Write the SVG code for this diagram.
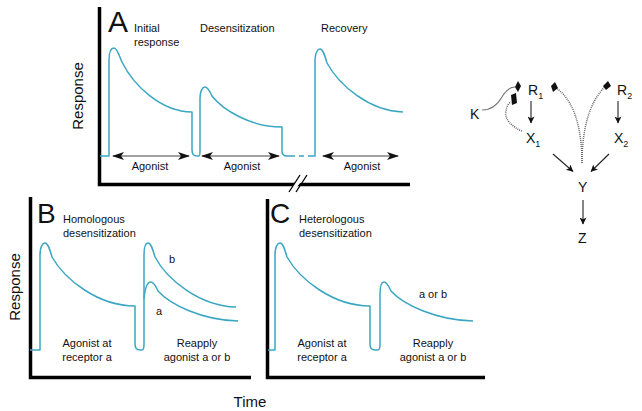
<svg xmlns="http://www.w3.org/2000/svg" width="642" height="411" viewBox="0 0 642 411">
<style>
text{font-family:"Liberation Sans",Arial,sans-serif;fill:#111}
.s{font-size:11px}
.m{font-size:11px;text-anchor:middle}
.big{font-size:30px}
.ax{stroke:#000;stroke-width:3.5;fill:none}
.tr{stroke:#3aa6c2;stroke-width:1.5;fill:none;stroke-linejoin:round}
.ag{stroke:#444;stroke-width:1.2;fill:none;marker-start:url(#ah);marker-end:url(#ah)}
.ar{stroke:#222;stroke-width:1.1;fill:none;marker-end:url(#sa)}
.dot{stroke:#666;stroke-width:1.5;fill:none;stroke-dasharray:1,1}
.lab{font-size:14px}
.sub{font-size:9px}
.yl{font-size:15px;text-anchor:middle}
</style>
<defs>
<marker id="ah" viewBox="0 0 12 8" refX="11" refY="4" markerWidth="12" markerHeight="8" markerUnits="userSpaceOnUse" orient="auto-start-reverse"><path d="M0,0 L12,4 L0,8 L3,4 z" fill="#111"/></marker>
<marker id="sa" viewBox="0 0 8 8" refX="7.5" refY="4" markerWidth="8" markerHeight="7" markerUnits="userSpaceOnUse" orient="auto"><path d="M0,0 L8,4 L0,8 L2,4 z" fill="#111"/></marker>
</defs>
<rect width="642" height="411" fill="#fff"/>

<g id="panelA">
<path class="ax" d="M99.5,7 V184.5 H410"/>
<polygon points="291,188 301,176 306,176 296,188" fill="#fff"/>
<path d="M289,192 L300,175 M296,192 L307,175" stroke="#000" stroke-width="1.3"/>
<text class="big" x="108" y="32">A</text>
<text class="s" x="134" y="32">Initial</text>
<text class="s" x="134" y="46">response</text>
<text class="s" x="200" y="32">Desensitization</text>
<text class="s" x="321" y="32">Recovery</text>
<text class="yl" transform="translate(83,96) rotate(-90)">Response</text>
<path class="tr" d="M100,156 H109 V60 C109,51 111,48 114,48 C117,48 119,55 122,62 C133,84.5 160.5,112 192,112 V150 C192,155 194,156 197,156 H199 C200,156 200,154 200,150 V99 C200,90 203,87 205,87 C208,87 210,92 212,96 C223,110 250.5,127 282,127 V151 C282,155 284,156 287,156 H290"/>
<path class="tr" d="M290,156 H312" stroke-dasharray="5,4"/>
<path class="tr" d="M312,156 H315 V62 C315,52 318,49 320,49 C323,49 325,56 327,63 C339,85 369,111 403,112"/>
<path class="ag" d="M113,156 H189"/>
<path class="ag" d="M202,156 H279"/>
<path class="ag" d="M323,156 H398"/>
<text class="m" x="150" y="170">Agonist</text>
<text class="m" x="242" y="170">Agonist</text>
<text class="m" x="362" y="170">Agonist</text>
</g>

<g id="panelB">
<path class="ax" d="M30.5,197 V377.5 H251"/>
<text class="big" x="37" y="223" style="font-size:28px">B</text>
<text class="s" x="63" y="223">Homologous</text>
<text class="s" x="63" y="237">desensitization</text>
<text class="yl" transform="translate(20,287) rotate(-90)">Response</text>
<path class="tr" d="M30,350 H40 V255 C40,246 43,243 45,243 C48,243 50,250 52,257 C64.5,279 97.6,306 135,306 V344 C135,349 137,350 140,350 H142 C143.5,350 144,349 144,344 V255 C144,246 146,243 148,243 C151,243 153,250 155,257 C167,279.5 199.5,306 236,307"/>
<path class="tr" d="M144,299 C145,287 148,282 151,282 C154,282 156,287 158,291 C170,304.5 202,320 238,321"/>
<text class="s" x="169" y="263">b</text>
<text class="s" x="156" y="315">a</text>
<text class="m" x="87" y="347">Agonist at</text>
<text class="m" x="87" y="361">receptor a</text>
<text class="m" x="197" y="347">Reapply</text>
<text class="m" x="197" y="361">agonist a or b</text>
</g>

<g id="panelC">
<path class="ax" d="M267.5,199 V377.5 H485"/>
<text class="big" x="270" y="223" style="font-size:28px">C</text>
<text class="s" x="299" y="223">Heterologous</text>
<text class="s" x="299" y="237">desensitization</text>
<path class="tr" d="M268,350 H275 V255 C275,246 278,243 280,243 C283,243 285,250 287,257 C299.5,279 332.6,306 370,306 V344 C370,349 372,350 375,350 H378 C379.5,350 380,349 380,344 V294 C380,285 382,282 384,282 C387,282 389,287 391,291 C403,304.5 436,320 473,321"/>
<text class="m" x="433" y="298">a or b</text>
<text class="m" x="322" y="347">Agonist at</text>
<text class="m" x="322" y="361">receptor a</text>
<text class="m" x="433" y="347">Reapply</text>
<text class="m" x="433" y="361">agonist a or b</text>
</g>

<text id="timeLabel" class="yl" x="250" y="407">Time</text>

<g id="connectors">
<path class="ar" d="M531,101 V123"/>
<path class="ar" d="M618,101 V123"/>
<path class="ar" d="M553,154 L573,171.5"/>
<path class="ar" d="M609,154 L591,171.5"/>
<path class="ar" d="M583,200 V224"/>
<path d="M482,110 C492,110 498,104 502,97 C506,90 510,87 515,87" stroke="#777" stroke-width="1.1" fill="none"/>
<path class="dot" d="M522,131 C512,127 504,119 506,111 C507,105 509,103 511,102"/>
<path class="dot" d="M582,163 C582,128 574,100 556,88"/>
<path class="dot" d="M582,163 C582,128 590,100 606,86"/>
<polygon points="518,81 521,86 518,92 515,87" fill="#111"/>
<polygon points="511,95 516,93 517,103 512,105" fill="#111"/>
<polygon points="551,86 555,82 558,88 553,92" fill="#111"/>
<polygon points="603,86 608,81 611,86 606,90" fill="#111"/>
</g>

<g id="K"><text class="lab" x="470" y="119">K</text></g>
<g id="R1"><text class="lab" x="528" y="95">R<tspan class="sub" dy="4">1</tspan></text></g>
<g id="R2"><text class="lab" x="617" y="95">R<tspan class="sub" dy="4">2</tspan></text></g>
<g id="X1"><text class="lab" x="526" y="143">X<tspan class="sub" dy="4">1</tspan></text></g>
<g id="X2"><text class="lab" x="614" y="143">X<tspan class="sub" dy="4">2</tspan></text></g>
<g id="Y"><text class="lab" x="578" y="192">Y</text></g>
<g id="Z"><text class="lab" x="578" y="243">Z</text></g>
</svg>
